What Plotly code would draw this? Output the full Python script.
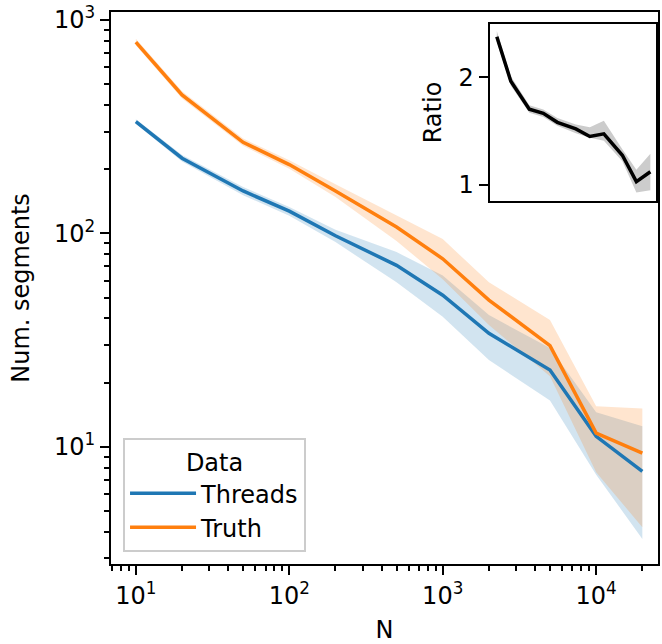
import plotly.graph_objects as go

# ---- data ----
N = [10, 20, 50, 100, 200, 500, 1000, 2000, 5000, 10000, 20000]

threads_mean = [334, 225, 158, 127, 97.5, 70.8, 51.3, 34, 22.9, 11.2, 7.67]
threads_low = [326, 217, 151, 121, 91, 59, 40.7, 25.5, 16.5, 7.4, 3.7]
threads_high = [342, 233, 165, 133, 104, 81.7, 63.5, 41.4, 29, 14.5, 12.5]

truth_mean = [787, 445, 267, 210, 158, 107, 76, 48.7, 29.8, 11.6, 9.35]
truth_low = [760, 428, 257, 201, 148, 92, 61, 37.2, 21.4, 7.6, 4.2]
truth_high = [815, 463, 278, 220, 170, 121, 94, 59, 39.3, 15.5, 15.1]

ratio_mean = [2.376, 1.963, 1.703, 1.664, 1.581, 1.520, 1.450, 1.474, 1.275, 1.030, 1.122]
ratio_low = [2.33, 1.92, 1.67, 1.63, 1.55, 1.48, 1.437, 1.41, 1.22, 0.93, 0.95]
ratio_high = [2.43, 2.01, 1.74, 1.70, 1.62, 1.56, 1.535, 1.596, 1.33, 1.14, 1.29]

x_ticks = [10, 100, 1000, 10000]
x_ticktext = ["10<sup>1</sup>", "10<sup>2</sup>", "10<sup>3</sup>", "10<sup>4</sup>"]
y_ticks = [10, 100, 1000]
y_ticktext = ["10<sup>1</sup>", "10<sup>2</sup>", "10<sup>3</sup>"]
ratio_ticks = [1, 2]

BLUE = "#1f77b4"
ORANGE = "#ff7f0e"
FONT = "DejaVu Sans"
FS = 24


def minor_vals(lo_exp, hi_exp):
    vals = []
    for e in range(lo_exp, hi_exp + 1):
        for m in range(2, 10):
            vals.append(m * 10 ** e)
    return vals


fig = go.Figure()


def band(x, lo, hi, color, xa="x", ya="y"):
    fig.add_trace(go.Scatter(
        x=list(x) + list(x)[::-1], y=list(hi) + list(lo)[::-1],
        fill="toself", fillcolor=color, line=dict(width=0),
        mode="lines", showlegend=False, hoverinfo="skip", xaxis=xa, yaxis=ya))


band(N, threads_low, threads_high, "rgba(31,119,180,0.2)")
band(N, truth_low, truth_high, "rgba(255,127,14,0.2)")
fig.add_trace(go.Scatter(x=N, y=threads_mean, mode="lines", name="Threads",
                         line=dict(color=BLUE, width=3.5)))
fig.add_trace(go.Scatter(x=N, y=truth_mean, mode="lines", name="Truth",
                         line=dict(color=ORANGE, width=3.5)))

band(N, ratio_low, ratio_high, "rgba(0,0,0,0.2)", "x2", "y2")
fig.add_trace(go.Scatter(x=N, y=ratio_mean, mode="lines", showlegend=False,
                         line=dict(color="black", width=3.5), xaxis="x2", yaxis="y2"))

axis_common = dict(showline=True, linecolor="black", linewidth=2, mirror=True,
                   ticks="outside", ticklen=9, tickwidth=2, tickcolor="black",
                   showgrid=False, zeroline=False, ticklabeloverflow="allow",
                   tickfont=dict(family=FONT, size=FS, color="black"))

fig.update_layout(
    width=662, height=644,
    margin=dict(l=111, r=2, t=8, b=80),
    paper_bgcolor="white", plot_bgcolor="white",
    font=dict(family=FONT, size=FS, color="black"),
    xaxis=dict(type="log", range=[0.838, 4.403], tickvals=x_ticks, ticktext=x_ticktext,
               title=dict(text="N", font=dict(family=FONT, size=FS), standoff=14),
               minor=dict(tickvals=minor_vals(0, 4), ticks="outside", ticklen=5,
                          tickwidth=1.5, tickcolor="black"),
               **axis_common),
    yaxis=dict(type="log", range=[0.451, 3.037], tickvals=y_ticks, ticktext=y_ticktext,
               title=dict(text="Num. segments", font=dict(family=FONT, size=FS), standoff=18),
               minor=dict(tickvals=minor_vals(0, 3), ticks="outside", ticklen=5,
                          tickwidth=1.5, tickcolor="black"),
               **axis_common),
    xaxis2=dict(type="log", range=[0.843, 4.43], domain=[0.692, 0.997], anchor="y2",
                showline=True, linecolor="black", linewidth=2, mirror=True,
                showticklabels=False, ticks="", showgrid=False, zeroline=False),
    yaxis2=dict(range=[0.847, 2.498], domain=[0.657, 0.979], anchor="x2",
                tickvals=ratio_ticks,
                title=dict(text="Ratio", font=dict(family=FONT, size=FS), standoff=10),
                **axis_common),
    legend=dict(x=0.022, y=0.022, xanchor="left", yanchor="bottom",
                bgcolor="rgba(255,255,255,0.8)", bordercolor="#cccccc", borderwidth=2,
                font=dict(family=FONT, size=FS), itemwidth=66, tracegroupgap=0,
                title=dict(text="Data", side="top center", font=dict(family=FONT, size=FS))),
)

fig.write_html("out.html", config={"displayModeBar": False},
               post_script="document.body.style.margin='0';")
